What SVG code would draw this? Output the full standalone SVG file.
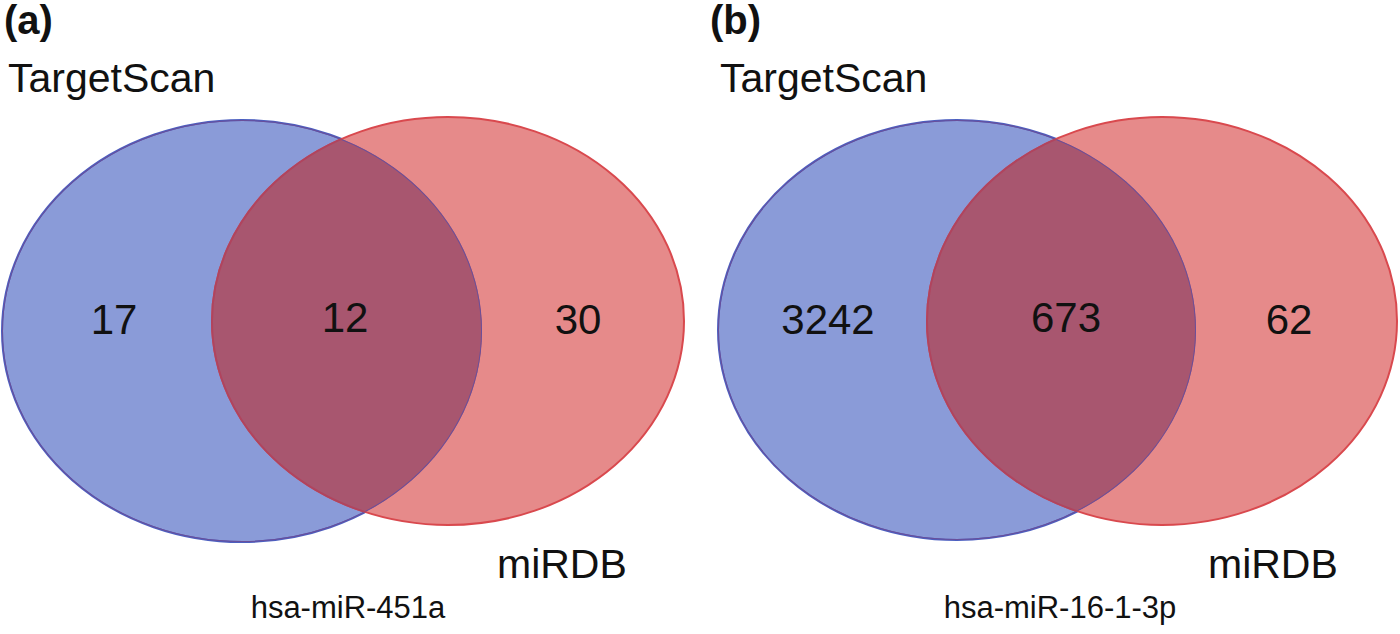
<svg xmlns="http://www.w3.org/2000/svg" width="1400" height="634" viewBox="0 0 1400 634">
<style>
text{font-family:"Liberation Sans",Arial,sans-serif;fill:#111}
.lbl{font-size:41px}
.num{font-size:42px;text-anchor:middle}
.sub{font-size:31px;text-anchor:middle}
.pan{font-size:40px;font-weight:bold}
.blue{fill:#8a9bd8;stroke:#4c5fc0;stroke-width:2}
.red{fill:#e68a8a;stroke:#d9494e;stroke-width:2}
.ov{fill:#a8566f}
</style>
<defs>
<clipPath id="cA"><ellipse cx="242" cy="331" rx="240" ry="211"/></clipPath>
<clipPath id="cB"><ellipse cx="957" cy="330" rx="239" ry="210"/></clipPath>
</defs>
<g id="venn-a">
<ellipse class="blue" cx="242" cy="331" rx="240" ry="211"/>
<ellipse class="red" cx="448" cy="321" rx="236" ry="204"/>
<ellipse class="ov" cx="448" cy="321" rx="236" ry="204" clip-path="url(#cA)"/>
<ellipse cx="242" cy="331" rx="240" ry="211" fill="none" stroke="#6a4f9a" stroke-width="2" clip-path="url(#cA)"/>
<ellipse cx="448" cy="321" rx="236" ry="204" fill="none" stroke="#b0445e" stroke-width="2" clip-path="url(#cA)"/>
<text class="pan" x="4" y="34">(a)</text>
<text class="lbl" x="8" y="92">TargetScan</text>
<text class="num" x="114" y="334">17</text>
<text class="num" x="345" y="332">12</text>
<text class="num" x="578" y="334">30</text>
<text class="lbl" x="497" y="578">miRDB</text>
<text class="sub" x="348" y="618">hsa-miR-451a</text>
</g>
<g id="venn-b">
<ellipse class="blue" cx="957" cy="330" rx="239" ry="210"/>
<ellipse class="red" cx="1162" cy="321" rx="235" ry="204"/>
<ellipse class="ov" cx="1162" cy="321" rx="235" ry="204" clip-path="url(#cB)"/>
<ellipse cx="957" cy="330" rx="239" ry="210" fill="none" stroke="#6a4f9a" stroke-width="2" clip-path="url(#cB)"/>
<ellipse cx="1162" cy="321" rx="235" ry="204" fill="none" stroke="#b0445e" stroke-width="2" clip-path="url(#cB)"/>
<text class="pan" x="710" y="34">(b)</text>
<text class="lbl" x="720" y="92">TargetScan</text>
<text class="num" x="828" y="334">3242</text>
<text class="num" x="1066" y="332">673</text>
<text class="num" x="1289" y="334">62</text>
<text class="lbl" x="1208" y="578">miRDB</text>
<text class="sub" x="1060" y="618">hsa-miR-16-1-3p</text>
</g>
<g id="connectors"/>
</svg>
